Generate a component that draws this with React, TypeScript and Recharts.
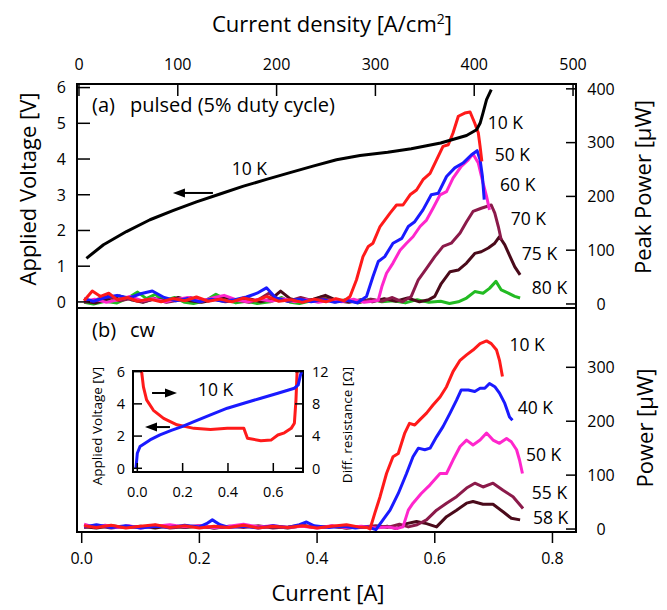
import type { ReactNode } from 'react'
import { LineChart, Line, XAxis, YAxis, ReferenceArea, ReferenceDot, ReferenceLine, Label } from 'recharts'

const FONT = "'Open Sans', 'Noto Sans', sans-serif"

// page layout of the two stacked panels
const W = 667
const H = 610
const PLOT_L = 77
const PLOT_R = 576
const TOP_A = 84
const SPLIT = 308
const BOT_B = 532

const RED = '#ff1a1a'
const BLUE = '#1a1aff'
const MAGENTA = '#ff26cc'
const MAROON = '#8b1a4a'
const DARK = '#4a0a1a'
const GREEN = '#22bb22'

// axis ranges
const CUR_DOMAIN: [number, number] = [-0.008, 0.84]
const DENS_DOMAIN: [number, number] = [-2, 503]
const V_DOMAIN: [number, number] = [-0.17, 6.1]
const PA_DOMAIN: [number, number] = [-7.5, 409]
const PB_DOMAIN: [number, number] = [-5.5, 410]

const curTicks = [0, 0.2, 0.4, 0.6, 0.8]
const densTicks = [0, 100, 200, 300, 400, 500]
const voltTicks = [0, 1, 2, 3, 4, 5, 6]
const peakTicks = [0, 100, 200, 300, 400]
const cwTicks = [0, 100, 200, 300]

// (a) pulsed: applied voltage at 10 K, [current A, V]
const pulsedV10K: [number, number][] = [
  [0.008, 1.22], [0.037, 1.6], [0.076, 1.97], [0.116, 2.3], [0.156, 2.56], [0.195, 2.8],
  [0.235, 3.02], [0.275, 3.24], [0.314, 3.43], [0.354, 3.62], [0.393, 3.8], [0.433, 3.98],
  [0.473, 4.1], [0.52, 4.19], [0.56, 4.29], [0.61, 4.45], [0.654, 4.66], [0.671, 4.82],
  [0.677, 5.0], [0.682, 5.29], [0.688, 5.66], [0.696, 5.94],
]

// (a) pulsed: peak power, [current A, µW]
const pulsed10K: [number, number][] = [
  [0.004, 6], [0.018, 24], [0.032, 14], [0.046, 20], [0.06, 8], [0.078, 12], [0.095, 5], [0.115, 9],
  [0.135, 4], [0.155, 10], [0.175, 6], [0.195, 13], [0.215, 5], [0.235, 9], [0.255, 4], [0.275, 11],
  [0.295, 6], [0.315, 14], [0.335, 5], [0.355, 8], [0.375, 3], [0.395, 9], [0.415, 4], [0.432, 10],
  [0.446, 6], [0.456, 14], [0.467, 45], [0.478, 88], [0.487, 107], [0.495, 113], [0.507, 144],
  [0.524, 169], [0.535, 184], [0.546, 184], [0.558, 203], [0.569, 212], [0.58, 231], [0.592, 243],
  [0.603, 268], [0.614, 293], [0.623, 296], [0.631, 318], [0.64, 349], [0.651, 355], [0.66, 357],
  [0.668, 336], [0.674, 318], [0.677, 293], [0.68, 265],
]
const pulsed50K: [number, number][] = [
  [0.004, 10], [0.02, 5], [0.04, 12], [0.06, 16], [0.08, 11], [0.1, 19], [0.12, 24], [0.14, 12],
  [0.16, 6], [0.18, 10], [0.2, 4], [0.22, 9], [0.24, 5], [0.26, 8], [0.28, 13], [0.298, 20],
  [0.314, 30], [0.33, 11], [0.35, 5], [0.37, 9], [0.39, 4], [0.41, 8], [0.43, 3], [0.45, 7],
  [0.468, 2], [0.484, 14], [0.495, 51], [0.504, 79], [0.515, 88], [0.529, 113], [0.544, 122],
  [0.555, 144], [0.566, 153], [0.58, 175], [0.594, 203], [0.606, 206], [0.62, 237], [0.634, 253],
  [0.648, 262], [0.662, 277], [0.672, 285], [0.677, 268], [0.681, 237], [0.684, 194],
]
const pulsed60K: [number, number][] = [
  [0.004, 4], [0.022, 9], [0.042, 3], [0.062, 8], [0.082, 14], [0.102, 6], [0.122, 10], [0.142, 4],
  [0.162, 9], [0.182, 12], [0.202, 5], [0.222, 11], [0.242, 16], [0.262, 8], [0.282, 4], [0.302, 9],
  [0.322, 5], [0.342, 10], [0.362, 4], [0.382, 8], [0.402, 3], [0.422, 7], [0.442, 4], [0.462, 9],
  [0.48, 3], [0.494, 5], [0.504, 7], [0.51, 32], [0.518, 57], [0.529, 76], [0.541, 100], [0.552, 113],
  [0.563, 125], [0.575, 144], [0.586, 156], [0.597, 178], [0.609, 203], [0.62, 209], [0.631, 234],
  [0.645, 256], [0.657, 268], [0.665, 279], [0.674, 262], [0.682, 225], [0.688, 200], [0.693, 175],
]
const pulsed70K: [number, number][] = [
  [0.004, 3], [0.024, 8], [0.044, 14], [0.064, 6], [0.084, 10], [0.104, 4], [0.124, 9], [0.144, 3],
  [0.164, 7], [0.184, 12], [0.204, 5], [0.224, 9], [0.244, 4], [0.264, 7], [0.284, 3], [0.3, 8],
  [0.318, 20], [0.334, 9], [0.352, 5], [0.372, 12], [0.392, 6], [0.412, 10], [0.432, 4], [0.452, 8],
  [0.472, 3], [0.492, 9], [0.51, 5], [0.528, 12], [0.545, 4], [0.56, 14], [0.572, 45], [0.586, 66],
  [0.6, 88], [0.614, 107], [0.628, 113], [0.643, 132], [0.654, 153], [0.665, 172], [0.679, 178],
  [0.696, 184], [0.702, 169], [0.708, 144], [0.713, 119],
]
const pulsed75K: [number, number][] = [
  [0.004, 5], [0.024, 2], [0.044, 9], [0.064, 15], [0.084, 8], [0.104, 3], [0.124, 10], [0.144, 5],
  [0.164, 12], [0.184, 6], [0.204, 3], [0.224, 8], [0.244, 13], [0.264, 6], [0.284, 10], [0.304, 4],
  [0.322, 9], [0.338, 24], [0.354, 10], [0.374, 4], [0.394, 9], [0.414, 16], [0.434, 6], [0.454, 3],
  [0.474, 8], [0.494, 4], [0.514, 10], [0.534, 5], [0.554, 11], [0.574, 4], [0.59, 8], [0.6, 14],
  [0.611, 38], [0.626, 60], [0.64, 63], [0.654, 76], [0.668, 94], [0.679, 97], [0.691, 104],
  [0.702, 113], [0.71, 125], [0.719, 110], [0.728, 88], [0.736, 69], [0.745, 54],
]
const pulsed80K: [number, number][] = [
  [0.004, 3], [0.02, 0], [0.04, 5], [0.06, 2], [0.08, 12], [0.095, 22], [0.11, 10], [0.125, 18],
  [0.14, 6], [0.158, 12], [0.175, 3], [0.19, 1], [0.21, 6], [0.228, 18], [0.245, 8], [0.262, 2],
  [0.28, 5], [0.298, 1], [0.32, 4], [0.34, 12], [0.355, 3], [0.37, 1], [0.39, 6], [0.41, 14],
  [0.43, 4], [0.45, 8], [0.47, 2], [0.49, 9], [0.51, 4], [0.53, 6], [0.55, 2], [0.57, 8], [0.59, 3],
  [0.61, 5], [0.625, 1], [0.64, 4], [0.654, 11], [0.668, 23], [0.682, 20], [0.693, 29], [0.704, 42],
  [0.713, 26], [0.725, 20], [0.736, 14], [0.745, 11],
]

// (b) cw: output power, [current A, µW]
const cw10K: [number, number][] = [
  [0.004, 6], [0.025, 3], [0.05, 7], [0.075, 2], [0.1, 5], [0.125, 8], [0.15, 3], [0.175, 6],
  [0.2, 2], [0.225, 5], [0.25, 3], [0.275, 7], [0.3, 2], [0.325, 5], [0.35, 3], [0.375, 6], [0.4, 2],
  [0.425, 5], [0.45, 8], [0.47, 4], [0.485, 3], [0.49, 0], [0.498, 29], [0.507, 60], [0.518, 103],
  [0.529, 134], [0.538, 140], [0.549, 178], [0.557, 196], [0.566, 193], [0.574, 202], [0.586, 215],
  [0.597, 230], [0.609, 245], [0.62, 264], [0.631, 292], [0.643, 313], [0.654, 323], [0.665, 332],
  [0.677, 344], [0.688, 349], [0.696, 344], [0.705, 332], [0.71, 313], [0.715, 283],
]
const cw40K: [number, number][] = [
  [0.004, 4], [0.025, 8], [0.05, 3], [0.075, 6], [0.1, 2], [0.125, 5], [0.15, 3], [0.175, 7],
  [0.2, 4], [0.212, 10], [0.222, 17], [0.235, 8], [0.25, 3], [0.275, 5], [0.3, 2], [0.325, 6],
  [0.35, 3], [0.37, 8], [0.382, 13], [0.395, 6], [0.42, 3], [0.445, 5], [0.465, 2], [0.485, 4],
  [0.5, -1], [0.512, 17], [0.524, 35], [0.538, 66], [0.552, 103], [0.563, 134], [0.572, 150],
  [0.583, 147], [0.592, 150], [0.603, 171], [0.614, 190], [0.626, 215], [0.637, 239], [0.645, 258],
  [0.657, 258], [0.668, 255], [0.677, 261], [0.685, 261], [0.693, 270], [0.702, 264], [0.71, 252],
  [0.719, 233], [0.727, 208], [0.732, 202],
]
const cw50K: [number, number][] = [
  [0.004, 9], [0.02, 4], [0.04, 7], [0.06, 3], [0.08, 6], [0.1, 2], [0.125, 5], [0.15, 8],
  [0.175, 4], [0.2, 6], [0.225, 3], [0.25, 5], [0.275, 9], [0.3, 4], [0.325, 6], [0.35, 3],
  [0.375, 5], [0.4, 2], [0.425, 6], [0.45, 3], [0.475, 5], [0.5, 2], [0.52, 4], [0.535, 1],
  [0.546, 4], [0.555, 35], [0.563, 48], [0.577, 66], [0.592, 82], [0.609, 103], [0.62, 103],
  [0.631, 128], [0.643, 153], [0.654, 165], [0.665, 156], [0.677, 165], [0.688, 178], [0.699, 165],
  [0.71, 159], [0.722, 168], [0.73, 162], [0.739, 147], [0.744, 128], [0.749, 103],
]
const cw55K: [number, number][] = [
  [0.004, 3], [0.025, 6], [0.05, 2], [0.075, 5], [0.1, 3], [0.125, 7], [0.15, 2], [0.175, 4],
  [0.2, 6], [0.225, 2], [0.25, 5], [0.275, 3], [0.3, 6], [0.325, 2], [0.35, 4], [0.375, 7], [0.4, 3],
  [0.425, 5], [0.45, 2], [0.475, 4], [0.5, 6], [0.52, 3], [0.54, 9], [0.555, 4], [0.57, 8],
  [0.586, 17], [0.603, 35], [0.62, 48], [0.637, 60], [0.654, 76], [0.668, 85], [0.682, 78],
  [0.699, 85], [0.716, 72], [0.733, 60], [0.75, 38],
]
const cw58K: [number, number][] = [
  [0.004, 4], [0.025, 2], [0.05, 6], [0.075, 3], [0.1, 5], [0.125, 2], [0.15, 6], [0.175, 3],
  [0.2, 5], [0.225, 2], [0.25, 4], [0.275, 6], [0.3, 3], [0.325, 5], [0.35, 2], [0.375, 6], [0.4, 3],
  [0.425, 5], [0.45, 2], [0.475, 4], [0.5, 3], [0.52, 5], [0.535, 1], [0.552, 10], [0.569, 14],
  [0.586, 10], [0.603, 4], [0.62, 23], [0.637, 35], [0.654, 48], [0.665, 51], [0.682, 46],
  [0.699, 46], [0.716, 32], [0.73, 20], [0.745, 17],
]

// inset: cw at 10 K, voltage [A, V] and differential resistance [A, Ω]
const insetVolt: [number, number][] = [
  [-0.006, 0], [0.0, 0.93], [0.012, 1.35], [0.056, 1.76], [0.1, 2.07], [0.15, 2.35], [0.197, 2.59],
  [0.25, 2.9], [0.323, 3.31], [0.397, 3.73], [0.47, 4.04], [0.545, 4.35], [0.62, 4.66],
  [0.693, 4.97], [0.71, 5.18], [0.72, 5.8], [0.726, 6.0],
]
const insetRes: [number, number][] = [
  [0.019, 12], [0.027, 10.1], [0.041, 8.5], [0.071, 7.2], [0.116, 6.2], [0.175, 5.4], [0.25, 4.96],
  [0.323, 4.83], [0.397, 4.96], [0.47, 4.96], [0.477, 4.4], [0.486, 3.72], [0.545, 3.43],
  [0.59, 3.5], [0.62, 4.13], [0.649, 4.4], [0.679, 4.96], [0.693, 5.6], [0.7, 8.5], [0.705, 12],
]
const INSET_I: [number, number] = [-0.019, 0.731]
const INSET_V: [number, number] = [-0.23, 6.04]
const INSET_R: [number, number] = [-0.46, 12.08]
const insetCurTicks = [0, 0.2, 0.4, 0.6]
const insetVoltTicks = [0, 2, 4, 6]
const insetResTicks = [0, 4, 8, 12]

const toPts = (arr: [number, number][]) => arr.map(([i, y]) => ({ i, y }))

type Side = 'left' | 'right' | 'top' | 'bottom'
interface TickStyle {
  side: Side
  edge: number
  len: number
  gap: number
  size: number
  out?: boolean
  digits?: number
  anchor?: 'start' | 'middle' | 'end'
}

// ticks drawn inside the frame (outside for `out`), label beside them
function tickRenderer(s: TickStyle) {
  return (props: any) => {
    const v = props.payload.value as number
    const text = s.digits != null ? v.toFixed(s.digits) : String(v)
    const font = { fontSize: s.size, fontFamily: FONT, fill: '#000' }
    if (s.side === 'left' || s.side === 'right') {
      const y = props.y
      const dir = s.side === 'left' ? 1 : -1
      const tx = s.side === 'left' ? s.edge - s.gap : s.edge + s.gap
      return (
        <g>
          <line x1={s.edge} x2={s.edge + dir * s.len} y1={y} y2={y} stroke="#000" strokeWidth={1.5} />
          <text x={tx} y={y} dy="0.36em" textAnchor={s.anchor ?? (s.side === 'left' ? 'end' : 'start')} {...font}>
            {text}
          </text>
        </g>
      )
    }
    const x = props.x
    const inward = s.side === 'top' ? 1 : -1
    const dir = s.out ? -inward : inward
    const ty = s.side === 'top' ? s.edge - s.gap : s.edge + s.gap
    return (
      <g>
        <line x1={x} x2={x} y1={s.edge} y2={s.edge + dir * s.len} stroke="#000" strokeWidth={1.5} />
        <text x={x} y={ty} dy="0.36em" textAnchor="middle" {...font}>
          {text}
        </text>
      </g>
    )
  }
}

function title(text: ReactNode, cx: number, cy: number, size: number, rotate = 0) {
  return () => (
    <text
      x={cx}
      y={cy}
      dy="0.36em"
      textAnchor="middle"
      transform={rotate ? `rotate(${rotate} ${cx} ${cy})` : undefined}
      fontSize={size}
      fontFamily={FONT}
      fill="#000"
    >
      {text}
    </text>
  )
}

function arrow(p: any) {
  const { x1, y1, x2, y2 } = p
  const d = x2 > x1 ? 1 : -1
  const hl = 12
  const hw = 4.5
  return (
    <g>
      <line x1={x1} y1={y1} x2={x2 - d * hl * 0.7} y2={y2} stroke="#000" strokeWidth={2} />
      <polygon points={`${x2},${y2} ${x2 - d * hl},${y2 - hw} ${x2 - d * hl},${y2 + hw}`} fill="#000" />
    </g>
  )
}

function tag(x: number, y: number, text: string, yAxisId: string, size = 17.5) {
  return (
    <ReferenceDot
      key={`${text}-${x}-${y}`}
      x={x}
      y={y}
      r={0}
      fill="none"
      stroke="none"
      xAxisId="cur"
      yAxisId={yAxisId}
      ifOverflow="visible"
      label={{ value: text, position: 'right', offset: 0, fontSize: size, fontFamily: FONT, fill: '#000' }}
    />
  )
}

const series = (data: [number, number][], color: string, yAxisId: string, key: string, width = 3) => (
  <Line
    key={key}
    data={toPts(data)}
    dataKey="y"
    xAxisId="cur"
    yAxisId={yAxisId}
    type="linear"
    stroke={color}
    strokeWidth={width}
    strokeLinejoin="round"
    dot={false}
    activeDot={false}
    isAnimationActive={false}
  />
)

// the density scale carries no series of its own; an unstroked line over its
// tick values keeps the axis registered
const densGuide = densTicks.map((d) => ({ d, y: 0 }))

function PulsedPanel() {
  return (
    <LineChart width={W} height={SPLIT + 14} margin={{ top: 0, right: 0, bottom: 14, left: 0 }}>
      <XAxis xAxisId="cur" type="number" dataKey="i" domain={CUR_DOMAIN} allowDataOverflow hide />
      <XAxis
        xAxisId="dens"
        orientation="top"
        type="number"
        dataKey="d"
        domain={DENS_DOMAIN}
        allowDataOverflow
        ticks={densTicks}
        interval={0}
        height={TOP_A}
        axisLine={false}
        tickLine={false}
        tick={tickRenderer({ side: 'top', edge: TOP_A, len: 12, gap: 20, size: 16 })}
      >
        <Label
          content={title(
            <>
              Current density [A/cm<tspan dy={-8} fontSize={14}>2</tspan>
              <tspan dy={8}>]</tspan>
            </>,
            332,
            24,
            22,
          )}
        />
      </XAxis>
      <YAxis
        yAxisId="v"
        orientation="left"
        type="number"
        domain={V_DOMAIN}
        allowDataOverflow
        ticks={voltTicks}
        interval={0}
        width={PLOT_L}
        axisLine={false}
        tickLine={false}
        tick={tickRenderer({ side: 'left', edge: PLOT_L, len: 13, gap: 11, size: 16 })}
      >
        <Label content={title('Applied Voltage [V]', 28, 189, 22, -90)} />
      </YAxis>
      <YAxis
        yAxisId="p"
        orientation="right"
        type="number"
        domain={PA_DOMAIN}
        allowDataOverflow
        ticks={peakTicks}
        interval={0}
        width={W - PLOT_R}
        axisLine={false}
        tickLine={false}
        tick={tickRenderer({ side: 'right', edge: PLOT_R, len: 10, gap: 25, size: 16, anchor: 'middle' })}
      >
        <Label content={title('Peak Power [µW]', 643, 187, 22, -90)} />
      </YAxis>

      <Line
        data={densGuide}
        dataKey="y"
        xAxisId="dens"
        yAxisId="v"
        stroke="none"
        dot={false}
        activeDot={false}
        legendType="none"
        isAnimationActive={false}
      />

      <ReferenceArea
        xAxisId="cur"
        yAxisId="v"
        x1={CUR_DOMAIN[0]}
        x2={CUR_DOMAIN[1]}
        y1={V_DOMAIN[0]}
        y2={V_DOMAIN[1]}
        ifOverflow="visible"
        fill="none"
        stroke="#000"
        strokeWidth={2}
      />

      {series(pulsed80K, GREEN, 'p', 'g80')}
      {series(pulsed75K, DARK, 'p', 'd75')}
      {series(pulsed70K, MAROON, 'p', 'm70')}
      {series(pulsed60K, MAGENTA, 'p', 'p60')}
      {series(pulsed50K, BLUE, 'p', 'b50')}
      {series(pulsed10K, RED, 'p', 'r10')}
      {series(pulsedV10K, '#000', 'v', 'v10')}

      <ReferenceLine
        xAxisId="cur"
        yAxisId="v"
        segment={[{ x: 0.223, y: 3.05 }, { x: 0.155, y: 3.05 }]}
        shape={arrow}
      />
      {tag(0.0175, 5.52, '(a)', 'v', 20)}
      {tag(0.082, 5.52, 'pulsed (5% duty cycle)', 'v', 20)}
      {tag(0.255, 3.73, '10 K', 'v')}
      {tag(0.69, 337, '10 K', 'p')}
      {tag(0.702, 277, '50 K', 'p')}
      {tag(0.711, 222, '60 K', 'p')}
      {tag(0.729, 158, '70 K', 'p')}
      {tag(0.748, 93, '75 K', 'p')}
      {tag(0.765, 30, '80 K', 'p')}
    </LineChart>
  )
}

function CwPanel() {
  return (
    <LineChart width={W} height={H} margin={{ top: SPLIT, right: 0, bottom: 0, left: PLOT_L }}>
      <XAxis
        xAxisId="cur"
        type="number"
        dataKey="i"
        domain={CUR_DOMAIN}
        allowDataOverflow
        ticks={curTicks}
        interval={0}
        height={H - BOT_B}
        axisLine={false}
        tickLine={false}
        tick={tickRenderer({ side: 'bottom', edge: BOT_B, len: 11, gap: 26, size: 16, out: true, digits: 1 })}
      >
        <Label content={title('Current [A]', 328, 593, 22)} />
      </XAxis>
      <YAxis
        yAxisId="p"
        orientation="right"
        type="number"
        domain={PB_DOMAIN}
        allowDataOverflow
        ticks={cwTicks}
        interval={0}
        width={W - PLOT_R}
        axisLine={false}
        tickLine={false}
        tick={tickRenderer({ side: 'right', edge: PLOT_R, len: 10, gap: 25, size: 16, anchor: 'middle' })}
      >
        <Label content={title('Power [µW]', 645, 428, 22, -90)} />
      </YAxis>

      <ReferenceArea
        xAxisId="cur"
        yAxisId="p"
        x1={CUR_DOMAIN[0]}
        x2={CUR_DOMAIN[1]}
        y1={PB_DOMAIN[0]}
        y2={PB_DOMAIN[1]}
        ifOverflow="visible"
        fill="none"
        stroke="#000"
        strokeWidth={2}
      />

      {series(cw58K, DARK, 'p', 'd58')}
      {series(cw55K, MAROON, 'p', 'm55')}
      {series(cw50K, MAGENTA, 'p', 'p50')}
      {series(cw40K, BLUE, 'p', 'b40')}
      {series(cw10K, RED, 'p', 'r10')}

      {tag(0.0175, 369, '(b)', 'p', 20)}
      {tag(0.082, 369, 'cw', 'p', 20)}
      {tag(0.727, 341, '10 K', 'p')}
      {tag(0.741, 224, '40 K', 'p')}
      {tag(0.755, 137, '50 K', 'p')}
      {tag(0.765, 67, '55 K', 'p')}
      {tag(0.767, 20, '58 K', 'p')}
    </LineChart>
  )
}

// inset plot area: x 45..215, y 11..112 inside a 280x150 chart
function Inset() {
  return (
    <LineChart width={280} height={150} margin={{ top: 11, right: 0, bottom: 0, left: 0 }}>
      <XAxis
        xAxisId="cur"
        type="number"
        dataKey="i"
        domain={INSET_I}
        allowDataOverflow
        ticks={insetCurTicks}
        interval={0}
        height={38}
        axisLine={false}
        tickLine={false}
        tick={tickRenderer({ side: 'bottom', edge: 112, len: 9, gap: 20, size: 14.5, digits: 1 })}
      />
      <YAxis
        yAxisId="v"
        orientation="left"
        type="number"
        domain={INSET_V}
        allowDataOverflow
        ticks={insetVoltTicks}
        interval={0}
        width={45}
        axisLine={false}
        tickLine={false}
        tick={tickRenderer({ side: 'left', edge: 45, len: 9, gap: 8, size: 14.5 })}
      >
        <Label content={title('Applied Voltage [V]', 9, 66, 13.5, -90)} />
      </YAxis>
      <YAxis
        yAxisId="r"
        orientation="right"
        type="number"
        domain={INSET_R}
        allowDataOverflow
        ticks={insetResTicks}
        interval={0}
        width={65}
        axisLine={false}
        tickLine={false}
        tick={tickRenderer({ side: 'right', edge: 215, len: 8, gap: 9, size: 14.5 })}
      >
        <Label content={title('Diff. resistance [Ω]', 259, 65, 13.5, -90)} />
      </YAxis>

      <ReferenceArea
        xAxisId="cur"
        yAxisId="v"
        x1={INSET_I[0]}
        x2={INSET_I[1]}
        y1={INSET_V[0]}
        y2={INSET_V[1]}
        ifOverflow="visible"
        fill="none"
        stroke="#000"
        strokeWidth={2}
      />

      {series(insetRes, RED, 'r', 'res')}
      {series(insetVolt, BLUE, 'v', 'volt')}

      <ReferenceLine xAxisId="cur" yAxisId="r" segment={[{ x: 0.065, y: 9.35 }, { x: 0.175, y: 9.35 }]} shape={arrow} />
      <ReferenceLine xAxisId="cur" yAxisId="v" segment={[{ x: 0.144, y: 2.56 }, { x: 0.034, y: 2.56 }]} shape={arrow} />
      {tag(0.268, 4.86, '10 K', 'v', 17.5)}
    </LineChart>
  )
}

export default function App() {
  return (
    <div style={{ position: 'absolute', left: 0, top: 0, width: W, height: H, background: '#fff' }}>
      <div style={{ position: 'absolute', left: 0, top: 0 }}>
        <PulsedPanel />
      </div>
      <div style={{ position: 'absolute', left: 0, top: 0 }}>
        <CwPanel />
      </div>
      <div style={{ position: 'absolute', left: 88, top: 360 }}>
        <Inset />
      </div>
    </div>
  )
}
